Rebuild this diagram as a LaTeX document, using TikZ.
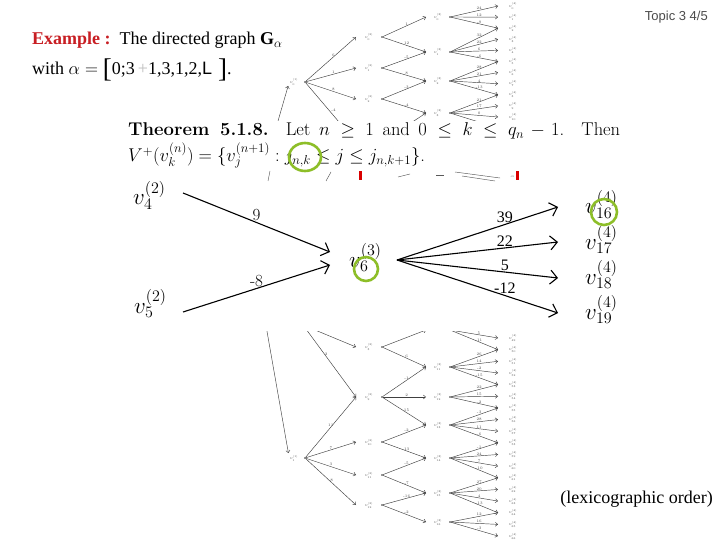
\RequirePackage{fix-cm}
\documentclass[tikz,border=0pt]{standalone}
\usepackage{fontspec}
\newfontfamily\tnr{Liberation Serif}
\newfontfamily\arial{Liberation Sans}
\usetikzlibrary{arrows.meta}
\definecolor{exred}{RGB}{200,30,35}
\definecolor{hlgreen}{RGB}{141,190,40}
\tikzset{
 tlab/.style={font=\fontsize{4}{4}\selectfont, text=black!70, inner sep=0.3pt},
 tnum/.style={font=\fontsize{3.8}{4}\selectfont, text=black!70, inner sep=0.4pt},
 tedge/.style={draw=black!75, line width=0.45pt, -{Straight Barb[length=2.4pt,width=4pt]}},
 tdot/.style={circle, fill=black!80, inner sep=0pt, minimum size=1.6pt},
 mv/.style={font=\fontsize{23}{26}\selectfont, inner sep=0pt, anchor=base west},
 marr/.style={line width=1.1pt, -{Straight Barb[length=7pt,width=14pt,line width=1.1pt]}},
 mnum/.style={font=\fontsize{17}{20}\selectfont, inner sep=1pt},
 mnumr/.style={font=\tnr\fontsize{16}{19}\selectfont, inner sep=1pt},
 hl/.style={draw=hlgreen, line width=2.6pt},
 frag/.style={draw=black!65, line width=0.45pt}
}
\begin{document}
\begin{tikzpicture}[x=1pt,y=-1pt]
\useasboundingbox (0,0) rectangle (720,540);
\fill[white] (0,0) rectangle (720,540);

% ---------- top tree (faded) ----------
\begin{scope}
\clip (255,0) rectangle (535,121);
\node[tlab] (T1) at (294,82) {$v_0^{(1)}$};
\node[tdot] (T1d) at (305,82) {};
\coordinate (T1in) at (276,128);
\draw[tedge, shorten >=4pt] (T1in) -- (T1.west);
\foreach \i/\y/\w in {0/37/6, 1/68/1, 2/99/8} {
  \coordinate (T2a\i) at (356,\y);
  \node[tlab] (T2\i) at (369,\y) {$v_{\i}^{(2)}$};
  \node[tdot] (T2d\i) at (382,\y) {};
  \draw[tedge] (T1d) -- node[tnum, above, pos=0.55] {\w} (T2a\i);
}
\coordinate (T2a3) at (356,142);
\coordinate (T2d3) at (382,142);
\draw[tedge] (T1d) -- node[tnum, above right, pos=0.5] {-4} (T2a3);
\foreach \i/\y in {0/17, 1/52, 2/81, 3/113} {
  \coordinate (T3a\i) at (426,\y);
  \node[tlab] (T3\i) at (438,\y) {$v_{\i}^{(3)}$};
  \node[tdot] (T3d\i) at (450,\y) {};
}
\foreach \a/\b/\w in {0/0/1, 0/1/12, 1/1/-5, 1/2/8, 2/2/-3, 2/3/-4}
  \draw[tedge] (T2d\a) -- node[tnum, above, pos=0.55] {\w} (T3a\b);
\draw[tedge] (T2d3) -- (T3a3);
\foreach \i in {0,...,10} {
  \coordinate (T4a\i) at (498,{6+11.1*\i});
  \node[tlab] (T4\i) at (513,{6+11.1*\i}) {$v_{\i}^{(4)}$};
}
\coordinate (T4a11) at (498,128);
\foreach \a/\b/\w in {0/0/24, 0/1/12, 0/2/-9, 1/2/32, 1/3/22, 1/4/6, 1/5/-6,
  2/5/28, 2/6/21, 2/7/4, 2/8/-13, 3/8/21, 3/9/17, 3/10/0}
  \draw[tedge] (T3d\a) -- node[tnum, above, pos=0.6] {\w} (T4a\b);
\draw[tedge] (T3d3) -- (T4a11);
\end{scope}

% ---------- bottom tree (faded) ----------
\begin{scope}
\clip (255,331) rectangle (535,540);
\node[tlab] (B1) at (294,458) {$v_1^{(1)}$};
\node[tdot] (B1d) at (305,458) {};
\coordinate (B1in) at (265,320);
\coordinate (BU) at (303,325);
\draw[tedge, shorten >=5pt] (B1in) -- (B1.west);
\foreach \i/\y in {8/347, 9/397, 10/442, 11/475, 12/505} {
  \coordinate (B2a\i) at (356,\y);
  \node[tlab] (B2\i) at (369,\y) {$v_{\i}^{(2)}$};
  \node[tdot] (B2d\i) at (382,\y) {};
}
\foreach \b/\w in {9/11, 10/7, 11/3, 12/-8}
  \draw[tedge] (B1d) -- node[tnum, above, pos=0.5] {\w} (B2a\b);
\draw[tedge] (BU) -- node[tnum, right, pos=0.4] {2} (B2a9);
\draw[tedge] (BU) -- (B2a8);
\coordinate (B3a10) at (426,330);
\coordinate (B3d10) at (450,330);
\foreach \i/\y in {11/367, 12/397, 13/425, 14/458, 15/493, 16/522} {
  \coordinate (B3a\i) at (426,\y);
  \node[tlab] (B3\i) at (438,\y) {$v_{\i}^{(3)}$};
  \node[tdot] (B3d\i) at (450,\y) {};
}
\draw[tedge] (B2d8) -- (B3a10);
\foreach \a/\b/\w in {8/11/6, 9/11/-1, 9/12/2, 9/13/15, 10/13/-2, 10/14/13,
  11/14/-5, 11/15/-7, 12/15/-16, 12/16/-2}
  \draw[tedge] (B2d\a) -- node[tnum, above, pos=0.55] {\w} (B3a\b);
\foreach \r in {0,...,17} {
  \pgfmathtruncatemacro\k{49+\r}
  \coordinate (B4a\r) at (498,{338+11.65*\r});
  \node[tlab] (B4\r) at (513,{338+11.65*\r}) {$v_{\k}^{(4)}$};
}
\foreach \a/\b/\w in {10/0/5, 10/1/-11, 11/1/26, 11/2/14, 11/3/-2, 11/4/-15,
  12/4/22, 12/5/15, 12/6/-2, 13/6/-3, 13/7/28, 13/8/11, 13/9/-6,
  14/9/-1, 14/10/24, 14/11/7, 14/12/-10, 15/12/27, 15/13/20, 15/14/4, 15/15/-13,
  16/15/12, 16/16/16, 16/17/-3}
  \draw[tedge] (B3d\a) -- node[tnum, above, pos=0.6] {\w} (B4a\b);
\end{scope}

% ---------- fragments visible below the theorem ----------
\draw[frag] (270,171) -- (268,181);
\draw[frag] (331,172) -- (326,181);
\draw[frag] (398,177) -- (410,174);
\draw[frag] (436,175) -- (444,175);
\draw[frag] (455,172) -- (500,178);
\draw[frag] (462,176) -- (495,181);
\node[tnum] (fr) at (512,177) {.o};
\fill[red!85!black] (359,171) rectangle (362,180);
\fill[red!85!black] (516,171) rectangle (519,180);

% ---------- header texts ----------
\node[anchor=base east, inner sep=0, font=\arial\fontsize{13}{15}\selectfont, text=black!70] (topic) at (708,21) {Topic 3 4/5};
\node[anchor=base west, inner sep=0, font=\tnr\fontsize{18}{21}\selectfont] (ex1) at (32,45)
  {{\bfseries\color{exred}Example :}\ \ The directed graph {\bfseries G}$_{\alpha}$};
\node[anchor=base west, inner sep=0, font=\tnr\fontsize{18}{21}\selectfont] (ex2) at (32,75)
  {with $\alpha={}$\raisebox{-3pt}{\fontsize{27}{27}\selectfont[}0;3{\color{black!25}\,+}1,3,1,2,{\arial L}\,\,\raisebox{-3pt}{\fontsize{27}{27}\selectfont]}.};

% ---------- theorem ----------
\node[anchor=base west, inner sep=0, font=\fontsize{18.5}{22}\selectfont] (th1) at (128,136)
  {\makebox[492pt][s]{\textbf{Theorem 5.1.8.}\ \ Let $n\geq 1$ and $0\leq k\leq q_n-1$.\ \ Then}};
\node[anchor=base west, inner sep=0, font=\fontsize{18.5}{22}\selectfont] (th2) at (128,162)
  {$V^+(v_k^{(n)})=\{v_j^{(n+1)}:j_{n,k}\leq j\leq j_{n,k+1}\}$.};

% ---------- main diagram ----------
\node[mv] (v4) at (133,205) {$v_4^{(2)}$};
\node[mv] (v5) at (134,313) {$v_5^{(2)}$};
\node[mv] (v6) at (349,267) {$v_6^{(3)}$};
\node[mv] (w16) at (585,214) {$v_{16}^{(4)}$};
\node[mv] (w17) at (585,249) {$v_{17}^{(4)}$};
\node[mv] (w18) at (585,284) {$v_{18}^{(4)}$};
\node[mv] (w19) at (585,319) {$v_{19}^{(4)}$};
\coordinate (v4o) at (183,193);
\coordinate (v5o) at (183,312);
\coordinate (v6i1) at (330,252);
\coordinate (v6i2) at (330,265);
\coordinate (v6o) at (397,260);
\coordinate (w16i) at (558,207);
\coordinate (w17i) at (558,242);
\coordinate (w18i) at (558,278);
\coordinate (w19i) at (558,313);
\draw[marr] (v4o) -- node[mnum, above, pos=0.5] {9} (v6i1);
\draw[marr] (v5o) -- node[mnum, above, pos=0.5] {-8} (v6i2);
\draw[marr] (v6o) -- node[mnumr, above, pos=0.67] {39} (w16i);
\draw[marr] (v6o) -- node[mnumr, above, pos=0.67] {22} (w17i);
\draw[marr] (v6o) -- node[mnumr, above, pos=0.67] {5} (w18i);
\draw[marr] (v6o) -- node[mnumr, above, pos=0.67] {-12} (w19i);

% ---------- highlights ----------
\draw[hl] (305,157) ellipse [x radius=16pt, y radius=14pt];
\draw[hl] (366,269) circle (12pt);
\draw[hl] (604,212) circle (13pt);

\node[anchor=base east, inner sep=0, font=\tnr\fontsize{18}{21}\selectfont] (lex) at (713,503) {(lexicographic order)};
\end{tikzpicture}
\end{document}
